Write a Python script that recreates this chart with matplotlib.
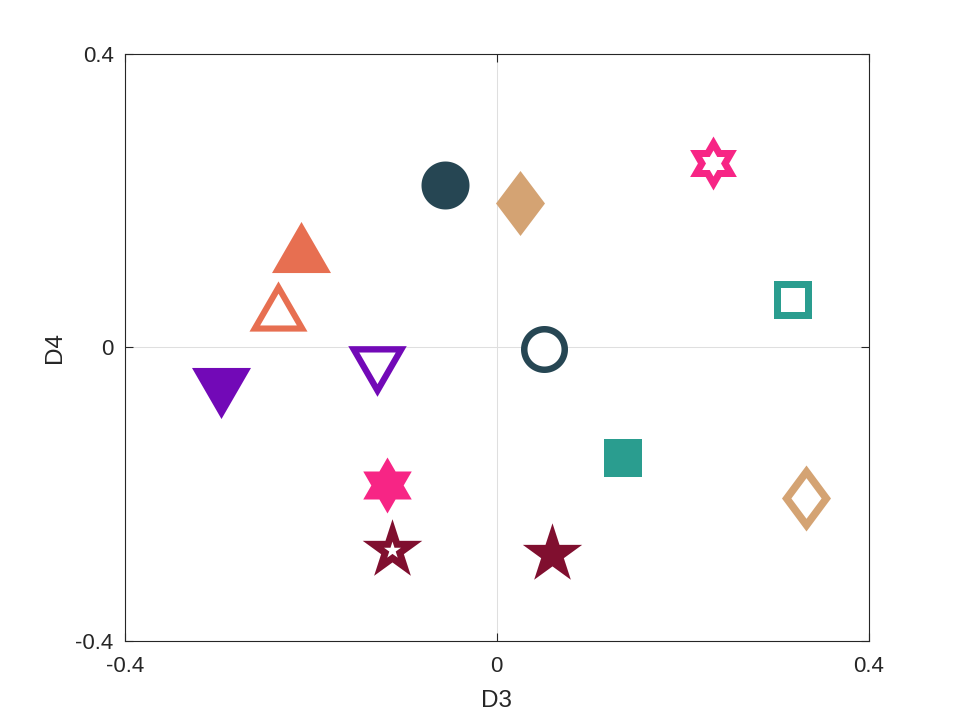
import numpy as np
import matplotlib
matplotlib.use("Agg")
import matplotlib.pyplot as plt
from matplotlib.path import Path

plt.rcParams['font.family'] = ['Liberation Sans', 'DejaVu Sans']

# ---- data ----
d3 = [-0.056, 0.0503, 0.0246, 0.3325, -0.2108, -0.2358, 0.136, 0.319,
      -0.2963, -0.1288, -0.1177, 0.233, 0.0596, -0.1125]
d4 = [0.221, -0.002, 0.197, -0.2056, 0.1366, 0.0564, -0.151, 0.064,
      -0.0624, -0.0322, -0.1876, 0.251, -0.2817, -0.2766]
shapes = ['circle', 'circle', 'diamond', 'diamond', 'up', 'up', 'square', 'square',
          'down', 'down', 'hexagram', 'hexagram', 'star', 'star']
filled = [True, False, True, False, True, False, True, False,
          True, False, True, False, True, False]
colors = ['#264653', '#264653', '#d4a373', '#d4a373', '#e76f51', '#e76f51',
          '#2a9d8f', '#2a9d8f', '#7209b7', '#7209b7', '#f72585', '#f72585',
          '#800f2f', '#800f2f']
xticks = [-0.4, 0, 0.4]
yticks = [-0.4, 0, 0.4]
xtick_labels = ['-0.4', '0', '0.4']
ytick_labels = ['-0.4', '0', '0.4']

# ---- marker geometry (in pixels around the marker centre) ----
NORM = 40.0          # common normalisation radius, px
PX2PT = 0.72         # points per pixel at dpi 100
MS = 2 * NORM * PX2PT


def marker_path(verts_px):
    """Polygon (px) -> marker path with a common normalisation."""
    v = np.asarray(verts_px, float) / NORM
    allv = np.vstack([[1.0, 0.0], v, v[:1]])
    codes = [Path.MOVETO, Path.MOVETO] + [Path.LINETO] * (len(v) - 1) + [Path.CLOSEPOLY]
    return Path(allv, codes)


def star_verts(n, R, r, cx=0.0, cy=0.0):
    out = []
    for k in range(2 * n):
        ang = np.pi / 2 + k * np.pi / n
        rr = R if k % 2 == 0 else r
        out.append((cx + rr * np.cos(ang), cy + rr * np.sin(ang)))
    return out


def circle_verts(R, n=96):
    t = np.linspace(0, 2 * np.pi, n, endpoint=False)
    return np.column_stack([R * np.cos(t), R * np.sin(t)])


def diamond_verts(hw, hh):
    return [(0, hh), (hw, 0), (0, -hh), (-hw, 0)]


def tri_verts(width, up=True, about=(0.0, 0.0), scale=1.0, ref_width=None):
    # equilateral triangle, bbox of the reference (outer) size centred on origin
    W = ref_width if ref_width is not None else width
    H = W * np.sqrt(3) / 2
    s = 1 if up else -1
    cy = -s * H / 6          # centroid relative to bbox centre
    k = width / W
    base = [(0, s * H / 2), (-W / 2, -s * H / 2), (W / 2, -s * H / 2)]
    return [(x * k, cy + (y - cy) * k) for x, y in base]


def square_verts(side):
    a = side / 2
    return [(-a, -a), (a, -a), (a, a), (-a, a)]


HEX_R = 1 / np.sqrt(3)
STAR_R = np.sin(np.radians(18)) / np.sin(np.radians(54))

filled_shape = {
    'circle': circle_verts(24),
    'diamond': diamond_verts(24.5, 32.5),
    'up': tri_verts(59, True),
    'down': tri_verts(59, False),
    'square': square_verts(38),
    'hexagram': star_verts(6, 28, 28 * HEX_R),
    'star': star_verts(5, 31.2, 31.2 * STAR_R),
}
open_shape = {   # (outer, inner)
    'circle': (circle_verts(23.5), circle_verts(17)),
    'diamond': (diamond_verts(24.5, 33), diamond_verts(15.1, 20.3)),
    'up': (tri_verts(58, True), tri_verts(36.7, True, ref_width=58)),
    'down': (tri_verts(58.5, False), tri_verts(36.5, False, ref_width=58.5)),
    'square': (square_verts(38), square_verts(24.3)),
    'hexagram': (star_verts(6, 27, 27 * HEX_R), star_verts(6, 13, 13 * HEX_R)),
    'star': (star_verts(5, 31.3, 31.3 * STAR_R), star_verts(5, 8.9, 8.9 * STAR_R)),
}

fig = plt.figure(figsize=(9.6, 7.2), dpi=100)
ax = fig.add_axes([0.13, 0.11, 0.775, 0.815])

for x, y, s, f, c in zip(d3, d4, shapes, filled, colors):
    if f:
        ax.plot([x], [y], linestyle='none', marker=marker_path(filled_shape[s]),
                markersize=MS, markerfacecolor=c, markeredgewidth=0, zorder=3)
    else:
        outer, inner = open_shape[s]
        ax.plot([x], [y], linestyle='none', marker=marker_path(outer),
                markersize=MS, markerfacecolor=c, markeredgewidth=0, zorder=3)
        ax.plot([x], [y], linestyle='none', marker=marker_path(inner),
                markersize=MS, markerfacecolor='white', markeredgewidth=0, zorder=4)

ax.set_xlim(-0.4, 0.4)
ax.set_ylim(-0.4, 0.4)
ax.set_xticks(xticks)
ax.set_xticklabels(xtick_labels)
ax.set_yticks(yticks)
ax.set_yticklabels(ytick_labels)
ax.grid(True, color='#dfdfdf', linewidth=0.75, zorder=0)
ax.set_axisbelow(True)
for sp in ax.spines.values():
    sp.set_color('#262626')
    sp.set_linewidth(0.8)
ax.tick_params(direction='in', length=5.5, width=0.8, color='#262626',
               labelcolor='#262626', labelsize=16, top=True, right=True)
ax.tick_params(axis='x', pad=11)
ax.tick_params(axis='y', pad=8)
ax.set_xlabel('D3', fontsize=17.5, color='#262626', labelpad=9)
ax.set_ylabel('D4', fontsize=17.5, color='#262626', labelpad=7)

fig.savefig('out.png', dpi=100)
